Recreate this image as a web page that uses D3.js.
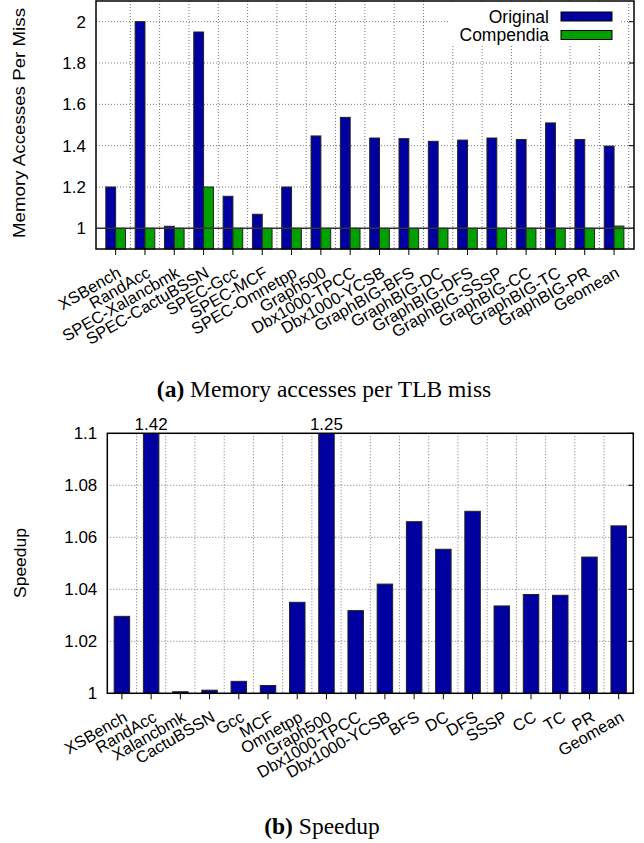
<!DOCTYPE html>
<html>
<head>
<meta charset="utf-8">
<script src="https://cdn.jsdelivr.net/npm/d3@7"></script>
<style>
  body { margin: 0; background: #fff; }
  svg { display: block; }
  text { font-family: "Liberation Sans", Arial, sans-serif; fill: #000; }
  .cap { font-family: "Liberation Serif", "DejaVu Serif", serif; }
</style>
</head>
<body>
<svg id="chart" width="644" height="843"></svg>
<script>
// --- données ---
const benchA = ['XSBench', 'RandAcc', 'SPEC-Xalancbmk', 'SPEC-CactuBSSN', 'SPEC-Gcc', 'SPEC-MCF',
  'SPEC-Omnetpp', 'Graph500', 'Dbx1000-TPCC', 'Dbx1000-YCSB', 'GraphBIG-BFS', 'GraphBIG-DC',
  'GraphBIG-DFS', 'GraphBIG-SSSP', 'GraphBIG-CC', 'GraphBIG-TC', 'GraphBIG-PR', 'Geomean'];
const original = [1.20, 2.00, 1.01, 1.95, 1.155, 1.068, 1.20, 1.447, 1.537, 1.437, 1.434, 1.421,
  1.427, 1.437, 1.430, 1.510, 1.430, 1.398];
const compendia = [1, 1, 1, 1.20, 1, 1, 1, 1, 1, 1, 1, 1, 1, 1, 1, 1, 1, 1.011];
const ticksA = [1, 1.2, 1.4, 1.6, 1.8, 2];

const benchB = ['XSBench', 'RandAcc', 'Xalancbmk', 'CactuBSSN', 'Gcc', 'MCF', 'Omnetpp', 'Graph500',
  'Dbx1000-TPCC', 'Dbx1000-YCSB', 'BFS', 'DC', 'DFS', 'SSSP', 'CC', 'TC', 'PR', 'Geomean'];
const speedup = [1.0296, 1.42, 1.0006, 1.0012, 1.0046, 1.003, 1.035, 1.25, 1.0318, 1.042, 1.066,
  1.0554, 1.070, 1.0336, 1.038, 1.0377, 1.0524, 1.0644];
const ticksB = [1, 1.02, 1.04, 1.06, 1.08, 1.1];

const BLUE = '#0000a0', GREEN = '#00a000';
const svg = d3.select('#chart');

function frame(g, x, y, n, w, h, ticks, fmt) {
  // grille verticale entre les catégories
  g.selectAll('.vg').data(d3.range(n).map(i => i + 0.5)).enter().append('line')
    .attr('x1', d => x(d)).attr('x2', d => x(d)).attr('y1', 0).attr('y2', h)
    .attr('stroke', '#777').attr('stroke-dasharray', '1,2');
  g.selectAll('.hg').data(ticks).enter().append('line')
    .attr('x1', 0).attr('x2', w).attr('y1', d => y(d)).attr('y2', d => y(d))
    .attr('stroke', '#777').attr('stroke-dasharray', '1,2');
  const ya = g.append('g').call(d3.axisLeft(y).tickValues(ticks).tickFormat(fmt).tickSize(0).tickPadding(10));
  ya.select('.domain').remove();
  ya.selectAll('text').attr('font-size', 17).attr('font-family', '"Liberation Sans", Arial, sans-serif');
  // petits traits à droite
  g.selectAll('.rt').data(ticks).enter().append('line')
    .attr('x1', w - 5).attr('x2', w).attr('y1', d => y(d)).attr('y2', d => y(d))
    .attr('stroke', '#000');
}

function xLabels(g, x, labels, h) {
  g.selectAll('.xt').data(labels).enter().append('line')
    .attr('x1', (d, i) => x(i)).attr('x2', (d, i) => x(i)).attr('y1', h).attr('y2', h + 6)
    .attr('stroke', '#000');
  g.selectAll('.xl').data(labels).enter().append('text')
    .attr('transform', (d, i) => `translate(${x(i) + 6.5},${h + 27}) rotate(-30)`)
    .attr('text-anchor', 'end').attr('font-size', 16.5).text(d => d);
}

// ---------- (a) ----------
{
  const m = { left: 96, top: 1, w: 538, h: 248 };
  const g = svg.append('g').attr('transform', `translate(${m.left},${m.top})`);
  const x = d3.scaleLinear().domain([-0.67, 17.68]).range([0, m.w]);
  const y = d3.scaleLinear().domain([0.9, 2.1]).range([m.h, 0]);
  frame(g, x, y, benchA.length, m.w, m.h, ticksA, d3.format('~g'));

  // fond blanc de la légende
  g.append('rect').attr('x', 352).attr('y', 2).attr('width', 172).attr('height', 42).attr('fill', '#fff');

  const bw = x(0.335) - x(0);
  g.selectAll('.bo').data(original).enter().append('rect')
    .attr('x', (d, i) => x(i) - bw).attr('width', bw)
    .attr('y', d => y(d)).attr('height', d => y(0.9) - y(d))
    .attr('fill', BLUE).attr('stroke', '#222').attr('stroke-width', 1);
  g.selectAll('.bc').data(compendia).enter().append('rect')
    .attr('x', (d, i) => x(i)).attr('width', bw)
    .attr('y', d => y(d)).attr('height', d => y(0.9) - y(d))
    .attr('fill', GREEN).attr('stroke', '#222').attr('stroke-width', 1);

  // ligne de base à 1
  g.append('line').attr('x1', 0).attr('x2', m.w).attr('y1', y(1)).attr('y2', y(1))
    .attr('stroke', '#333').attr('stroke-width', 1.5);

  g.append('rect').attr('width', m.w).attr('height', m.h)
    .attr('fill', 'none').attr('stroke', '#000').attr('stroke-width', 1.5);
  xLabels(g, x, benchA, m.h);

  // légende
  const leg = [['Original', BLUE], ['Compendia', GREEN]];
  leg.forEach(([name, c], i) => {
    g.append('text').attr('x', 453).attr('y', 21.5 + i * 18.5).attr('text-anchor', 'end')
      .attr('font-size', 17.5).text(name);
    g.append('rect').attr('x', 465).attr('y', 11 + i * 18.5).attr('width', 51).attr('height', 9)
      .attr('fill', c).attr('stroke', '#000');
  });

  svg.append('text').attr('transform', 'translate(25,123) rotate(-90)')
    .attr('text-anchor', 'middle').attr('font-size', 16.5)
    .attr('textLength', 230).attr('lengthAdjust', 'spacingAndGlyphs')
    .text('Memory Accesses Per Miss');

  const cap = svg.append('text').attr('class', 'cap').attr('x', 324).attr('y', 397)
    .attr('text-anchor', 'middle').attr('font-size', 23.5);
  cap.append('tspan').attr('font-weight', 'bold').text('(a)');
  cap.append('tspan').text(' Memory accesses per TLB miss');
}

// ---------- (b) ----------
{
  const m = { left: 107.3, top: 433.3, w: 526, h: 260 };
  const g = svg.append('g').attr('transform', `translate(${m.left},${m.top})`);
  const x = d3.scaleLinear().domain([-0.5, 17.5]).range([0, m.w]);
  const y = d3.scaleLinear().domain([1, 1.1]).range([m.h, 0]);
  frame(g, x, y, benchB.length - 1, m.w, m.h, ticksB, d3.format('~g'));

  g.append('clipPath').attr('id', 'clipB').append('rect').attr('width', m.w).attr('height', m.h);
  const bw = x(0.53) - x(0);
  g.append('g').attr('clip-path', 'url(#clipB)')
    .selectAll('rect').data(speedup).enter().append('rect')
    .attr('x', (d, i) => x(i) - bw / 2).attr('width', bw)
    .attr('y', d => y(d)).attr('height', d => y(1) - y(d))
    .attr('fill', BLUE).attr('stroke', '#222').attr('stroke-width', 1);

  // valeurs hors échelle
  g.selectAll('.ov').data(speedup.map((v, i) => [v, i]).filter(d => d[0] > 1.1)).enter().append('text')
    .attr('x', d => x(d[1])).attr('y', -3.5).attr('text-anchor', 'middle').attr('font-size', 17)
    .text(d => d3.format('.2f')(d[0]));

  g.append('rect').attr('width', m.w).attr('height', m.h)
    .attr('fill', 'none').attr('stroke', '#000').attr('stroke-width', 1.5);
  xLabels(g, x, benchB, m.h);

  svg.append('text').attr('transform', 'translate(26,563) rotate(-90)')
    .attr('text-anchor', 'middle').attr('font-size', 16.5)
    .attr('textLength', 70).attr('lengthAdjust', 'spacingAndGlyphs')
    .text('Speedup');

  const cap = svg.append('text').attr('class', 'cap').attr('x', 322).attr('y', 834)
    .attr('text-anchor', 'middle').attr('font-size', 23.5);
  cap.append('tspan').attr('font-weight', 'bold').text('(b)');
  cap.append('tspan').text(' Speedup');
}
</script>
</body>
</html>
